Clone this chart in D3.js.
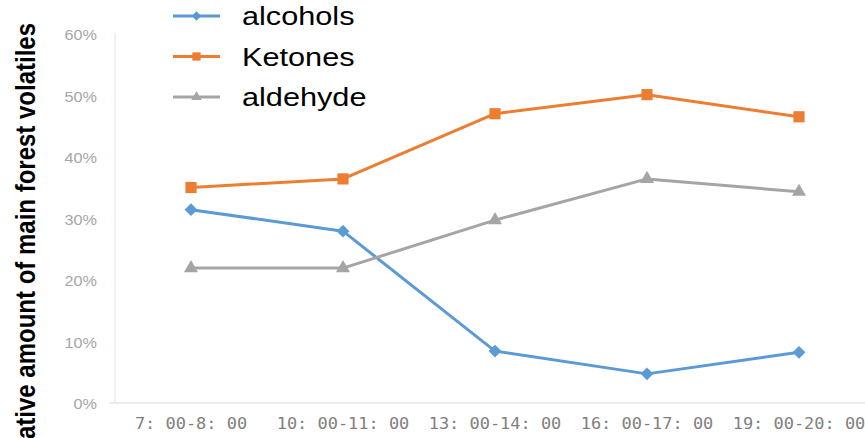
<!DOCTYPE html>
<html>
<head>
<meta charset="utf-8">
<script src="https://cdn.jsdelivr.net/npm/d3@7"></script>
<style>
  html, body { margin: 0; padding: 0; background: #fff; }
  svg { display: block; }
</style>
</head>
<body>
<svg id="chart" width="865" height="438"></svg>
<script>
// Sampling windows (time of day)
const periods = ["7: 00-8: 00", "10: 00-11: 00", "13: 00-14: 00", "16: 00-17: 00", "19: 00-20: 00"];
// Relative amounts of the main forest volatile classes
const alcohols = [0.316, 0.281, 0.086, 0.049, 0.084];
const ketones  = [0.352, 0.366, 0.472, 0.503, 0.467];
const aldehyde = [0.221, 0.221, 0.299, 0.366, 0.345];
const yTicks = [0, 0.1, 0.2, 0.3, 0.4, 0.5, 0.6];
const seriesNames = ["alcohols", "Ketones", "aldehyde"];

const diamond = d3.symbolDiamond2 || d3.symbolDiamond;
const series = [
  { name: seriesNames[0], values: alcohols, color: "#5b9bd5", symbol: diamond, size: 105 },
  { name: seriesNames[1], values: ketones,  color: "#ed7d31", symbol: d3.symbolSquare,  size: 125 },
  { name: seriesNames[2], values: aldehyde, color: "#a5a5a5", symbol: d3.symbolTriangle, size: 85 }
];

const svg = d3.select("#chart");
const sx = 1.16; // horizontal glyph stretch used by the text

const plot = { left: 115, right: 875, top: 35, bottom: 404 };

const x = d3.scaleBand().domain(periods).range([plot.left, plot.right]);
const y = d3.scaleLinear().domain([0, 0.6]).range([plot.bottom, plot.top]);
const cx = d => x(d) + x.bandwidth() / 2;

// plot area frame (faint)
svg.append("line")
  .attr("x1", plot.left).attr("x2", plot.left)
  .attr("y1", 33).attr("y2", 403)
  .attr("stroke", "#ececec").attr("stroke-width", 1.5);
svg.append("line")
  .attr("x1", 110).attr("x2", 865)
  .attr("y1", 403).attr("y2", 403)
  .attr("stroke", "#e4e4e4").attr("stroke-width", 1.5);

// y axis labels
const yAxis = d3.axisLeft(y).tickValues(yTicks).tickFormat(d3.format(".0%")).tickSize(0).tickPadding(0);
const yg = svg.append("g").attr("transform", "translate(97,0)").call(yAxis);
yg.select(".domain").remove();
yg.selectAll("text")
  .attr("x", 0)
  .attr("dy", "0.35em")
  .attr("fill", "#a6a6a6")
  .style("font-family", "Arial, 'Liberation Sans', sans-serif")
  .style("font-size", "14px")
  .attr("transform", `scale(${sx},1)`)
  .attr("text-anchor", "end");

// x axis labels
const xAxis = d3.axisBottom(x).tickSize(0).tickPadding(0);
const xg = svg.append("g").attr("transform", "translate(0,429)").call(xAxis);
xg.select(".domain").remove();
xg.selectAll("text")
  .attr("y", 0).attr("dy", 0)
  .attr("fill", "#7f7f7f")
  .style("font-family", "'DejaVu Sans Mono', 'Liberation Mono', monospace")
  .style("font-size", "15px")
  .attr("transform", "scale(1.13,1)")
  .attr("text-anchor", "middle");

// y axis title
svg.append("text")
  .attr("transform", `translate(35,23) scale(${sx},1) rotate(-90)`)
  .attr("text-anchor", "end")
  .style("font-family", "Arial, 'Liberation Sans', sans-serif")
  .style("font-weight", "bold")
  .style("font-size", "24px")
  .attr("fill", "#000")
  .text("Relative amount of main forest volatiles");

// series lines and markers
const line = d3.line().x((d, i) => cx(periods[i])).y(d => y(d));
series.forEach(s => {
  svg.append("path")
    .datum(s.values)
    .attr("d", line)
    .attr("fill", "none")
    .attr("stroke", s.color)
    .attr("stroke-width", 3)
    .attr("stroke-linejoin", "round");
  svg.append("g").selectAll("path")
    .data(s.values)
    .join("path")
    .attr("transform", (d, i) => `translate(${cx(periods[i])},${y(d)})`)
    .attr("d", d3.symbol().type(s.symbol).size(s.size))
    .attr("fill", s.color);
});

// legend
const legend = svg.append("g");
series.forEach((s, i) => {
  const ly = 16 + i * 40.5;
  legend.append("line")
    .attr("x1", 173).attr("x2", 220)
    .attr("y1", ly).attr("y2", ly)
    .attr("stroke", s.color).attr("stroke-width", 3);
  legend.append("path")
    .attr("transform", `translate(196.5,${ly})`)
    .attr("d", d3.symbol().type(s.symbol).size(s.size * 0.55))
    .attr("fill", s.color);
  legend.append("text")
    .attr("transform", `translate(242,${ly + 9}) scale(1.18,1)`)
    .style("font-family", "Arial, 'Liberation Sans', sans-serif")
    .style("font-size", "26px")
    .attr("fill", "#000")
    .text(s.name);
});
</script>
</body>
</html>
